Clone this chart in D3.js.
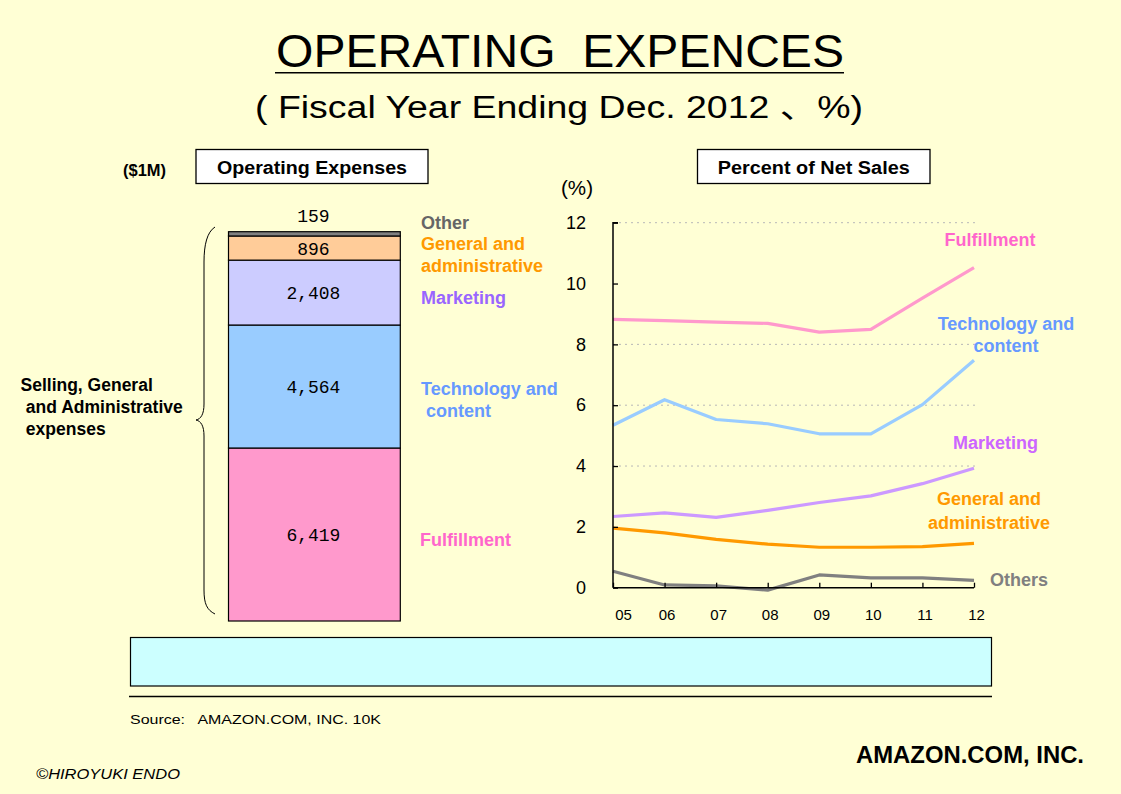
<!DOCTYPE html>
<html>
<head>
<meta charset="utf-8">
<script src="https://cdn.jsdelivr.net/npm/d3@7"></script>
<style>
  html, body { margin: 0; padding: 0; background: #FFFFD5; }
  svg { display: block; }
</style>
</head>
<body>
<svg id="chart" width="1121" height="794" font-family='"Liberation Sans", Arial, "Noto Sans CJK JP", sans-serif'></svg>
<script>
// ---------------- DATA ----------------
const expenseCategories = ["Fulfillment", "Technology and content", "Marketing", "General and administrative", "Other"];
const expenseValues = [6419, 4564, 2408, 896, 159];
const expenseLabels = ["6,419", "4,564", "2,408", "896", "159"];

const years = ["05", "06", "07", "08", "09", "10", "11", "12"];
const fulfillmentPct = [8.82, 8.78, 8.73, 8.69, 8.40, 8.49, 9.52, 10.52];
const technologyPct  = [5.34, 6.18, 5.53, 5.39, 5.06, 5.06, 6.02, 7.48];
const marketingPct   = [2.34, 2.46, 2.31, 2.54, 2.80, 3.02, 3.42, 3.93];
const gaPct          = [1.96, 1.80, 1.59, 1.43, 1.33, 1.33, 1.35, 1.46];
const othersPct      = [0.54, 0.09, 0.06, -0.08, 0.42, 0.32, 0.32, 0.24];

const yTickValues = [0, 2, 4, 6, 8, 10, 12];
const gridValues = [4, 6, 8, 12];

// ---------------- SETUP ----------------
const svg = d3.select("#chart");
const narrow = '"Liberation Sans Narrow", "Liberation Sans", Arial, "Noto Sans CJK JP", sans-serif';

svg.append("rect").attr("width", 1121).attr("height", 794).attr("fill", "#FFFFD5");

// Title
svg.append("text").attr("x", 276).attr("y", 67)
  .attr("font-family", narrow).attr("font-size", 46)
  .attr("textLength", 568).attr("lengthAdjust", "spacingAndGlyphs")
  .style("white-space", "pre")
  .attr("fill", "#000").text("OPERATING  EXPENCES");
svg.append("line").attr("x1", 275).attr("x2", 844).attr("y1", 72.7).attr("y2", 72.7)
  .attr("stroke", "#000").attr("stroke-width", 1.5);
svg.append("text").attr("x", 255).attr("y", 118)
  .attr("font-family", narrow).attr("font-size", 31)
  .attr("textLength", 608).attr("lengthAdjust", "spacingAndGlyphs")
  .attr("fill", "#000").text("( Fiscal Year Ending Dec. 2012 \u3001%)");

// Box headers
function headerBox(x, w, label, tl) {
  svg.append("rect").attr("x", x).attr("y", 149.5).attr("width", w).attr("height", 34)
    .attr("fill", "#fff").attr("stroke", "#000").attr("stroke-width", 1.3);
  svg.append("text").attr("x", x + w / 2).attr("y", 173.5).attr("text-anchor", "middle")
    .attr("font-size", 18).attr("font-weight", "bold")
    .attr("textLength", tl).attr("lengthAdjust", "spacingAndGlyphs").text(label);
}
headerBox(196, 232, "Operating Expenses", 190);
headerBox(697.5, 232.5, "Percent of Net Sales", 192);

svg.append("text").attr("x", 123).attr("y", 176).attr("font-family", narrow)
  .attr("font-size", 17).attr("font-weight", "bold")
  .attr("textLength", 43).attr("lengthAdjust", "spacingAndGlyphs").text("($1M)");
svg.append("text").attr("x", 561).attr("y", 195).attr("font-family", narrow)
  .attr("font-size", 20)
  .attr("textLength", 32).attr("lengthAdjust", "spacingAndGlyphs").text("(%)");

// ---------------- STACKED BAR ----------------
const total = d3.sum(expenseValues);
const yBar = d3.scaleLinear().domain([0, total]).range([621, 231.7]);
const barX = 228.5, barW = 171.8;
const tops = Array.from(d3.cumsum(expenseValues));
const bottoms = tops.map((t, i) => t - expenseValues[i]);
const barColors = ["#FF99CC", "#99CCFF", "#CCCCFF", "#FFCC99", "#808080"];

svg.selectAll("rect.seg").data(expenseValues).join("rect").attr("class", "seg")
  .attr("x", barX).attr("width", barW)
  .attr("y", (d, i) => yBar(tops[i]))
  .attr("height", (d, i) => yBar(bottoms[i]) - yBar(tops[i]))
  .attr("fill", (d, i) => barColors[i])
  .attr("stroke", "#000").attr("stroke-width", 1.2);

svg.selectAll("text.seglab").data(expenseLabels).join("text").attr("class", "seglab")
  .attr("x", barX + barW / 2 - 1)
  .attr("y", (d, i) => i === expenseLabels.length - 1
    ? yBar(tops[i]) - 9.4
    : (yBar(tops[i]) + yBar(bottoms[i])) / 2 + 6.5)
  .attr("text-anchor", "middle")
  .attr("font-family", '"Liberation Mono", "DejaVu Sans Mono", monospace')
  .attr("font-size", 18).attr("fill", "#000")
  .text(d => d);

// Left-side legend labels
const leftLabels = [
  { lines: ["Fulfillment"], x: [420], y: [546], color: "#FF66CC" },
  { lines: ["Technology and", "content"], x: [421, 426], y: [395, 417], color: "#6699FF" },
  { lines: ["Marketing"], x: [421], y: [303.5], color: "#9966FF" },
  { lines: ["General and", "administrative"], x: [421, 421], y: [250, 272], color: "#FF9900" },
  { lines: ["Other"], x: [421], y: [228.5], color: "#666666" }
];
leftLabels.forEach(l => {
  l.lines.forEach((t, j) => {
    svg.append("text").attr("x", l.x[j]).attr("y", l.y[j])
      .attr("font-size", 18).attr("font-weight", "bold").attr("fill", l.color).text(t);
  });
});

// Brace
svg.append("path")
  .attr("d", "M215,227 C207,232 204,245 204,262 L204,404 C204,414 201,419 196,420 C201,421 204,426 204,436 L204,590 C204,604 207,610 215,614")
  .attr("fill", "none").attr("stroke", "#000").attr("stroke-width", 1);

[["Selling, General", 20.5, 390.7], [" and Administrative", 21, 413.3], [" expenses", 21, 435]].forEach(([t, x, y]) => {
  svg.append("text").attr("x", x).attr("y", y).attr("font-size", 17.5).attr("font-weight", "bold")
    .style("white-space", "pre").attr("fill", "#000").text(t);
});

// ---------------- LINE CHART ----------------
const xL = d3.scalePoint().domain(years).range([613, 974]);
const yL = d3.scaleLinear().domain([0, 12]).range([587.7, 222.7]);

// gridlines
svg.selectAll("line.grid").data(gridValues).join("line").attr("class", "grid")
  .attr("x1", 613).attr("x2", 975)
  .attr("y1", d => yL(d)).attr("y2", d => yL(d))
  .attr("stroke", "#B8B8B8").attr("stroke-width", 1).attr("stroke-dasharray", "2,4");

const series = [
  { values: fulfillmentPct, color: "#FF99CC" },
  { values: technologyPct, color: "#99CCFF" },
  { values: marketingPct, color: "#CC99FF" },
  { values: gaPct, color: "#FF9900" },
  { values: othersPct, color: "#808080" }
];
const lineGen = d3.line().x((d, i) => xL(years[i])).y(d => yL(d));
svg.selectAll("path.series").data(series).join("path").attr("class", "series")
  .attr("d", d => lineGen(d.values))
  .attr("fill", "none").attr("stroke", d => d.color).attr("stroke-width", 3.2)
  .attr("stroke-linejoin", "round");

// axes
const yAxis = d3.axisLeft(yL).tickValues(yTickValues).tickSize(-5).tickPadding(27).tickFormat(d3.format("d"));
const gy = svg.append("g").attr("transform", "translate(613,0)").call(yAxis);
gy.attr("font-family", narrow).attr("font-size", 18);
gy.select(".domain").attr("stroke", "#000").attr("stroke-width", 1.5).attr("d", "M5," + yL(12) + "H0V" + yL(0));
gy.selectAll(".tick line").attr("stroke", "#000").attr("stroke-width", 1.3);
gy.selectAll(".tick text").attr("fill", "#000");

const xAxis = d3.axisBottom(xL).tickSize(-5).tickPadding(22);
const gx = svg.append("g").attr("transform", "translate(0," + yL(0) + ")").call(xAxis);
gx.attr("font-family", narrow).attr("font-size", 15);
gx.select(".domain").attr("stroke", "#000").attr("stroke-width", 1.5).attr("d", "M613,0H974");
gx.selectAll(".tick line").attr("stroke", "#000").attr("stroke-width", 1.3);
gx.selectAll(".tick text").attr("fill", "#000")
  .attr("dx", (d, i) => i === 0 ? 10 : 2);

// Right-side labels
const rightLabels = [
  { lines: ["Fulfillment"], x: 990, y: [246], color: "#FF66CC", anchor: "middle" },
  { lines: ["Technology and", "content"], x: 1006, y: [330, 352], color: "#6699FF", anchor: "middle" },
  { lines: ["Marketing"], x: 995.5, y: [449], color: "#CC66FF", anchor: "middle" },
  { lines: ["General and", "administrative"], x: 989, y: [505, 528.5], color: "#FF9900", anchor: "middle" },
  { lines: ["Others"], x: 990, y: [586], color: "#808080", anchor: "start" }
];
rightLabels.forEach(l => {
  l.lines.forEach((t, j) => {
    svg.append("text").attr("x", l.x).attr("y", l.y[j]).attr("text-anchor", l.anchor)
      .attr("font-size", 18).attr("font-weight", "bold").attr("fill", l.color).text(t);
  });
});

// ---------------- FOOTER ----------------
svg.append("rect").attr("x", 130.5).attr("y", 637.5).attr("width", 861).attr("height", 48.5)
  .attr("fill", "#CCFFFF").attr("stroke", "#000").attr("stroke-width", 1.2);
svg.append("line").attr("x1", 129).attr("x2", 992).attr("y1", 696.5).attr("y2", 696.5)
  .attr("stroke", "#000").attr("stroke-width", 1.5);
svg.append("text").attr("x", 130).attr("y", 724).attr("font-family", narrow)
  .attr("font-size", 13).attr("textLength", 251).attr("lengthAdjust", "spacingAndGlyphs")
  .style("white-space", "pre")
  .text("Source:   AMAZON.COM, INC. 10K");
svg.append("text").attr("x", 856).attr("y", 763).attr("font-family", narrow)
  .attr("font-size", 23).attr("font-weight", "bold")
  .attr("textLength", 228).attr("lengthAdjust", "spacingAndGlyphs")
  .text("AMAZON.COM, INC.");
svg.append("text").attr("x", 36).attr("y", 779).attr("font-family", narrow)
  .attr("font-size", 14).attr("font-style", "italic")
  .attr("textLength", 144).attr("lengthAdjust", "spacingAndGlyphs")
  .text("\u00A9HIROYUKI ENDO");
</script>
</body>
</html>
